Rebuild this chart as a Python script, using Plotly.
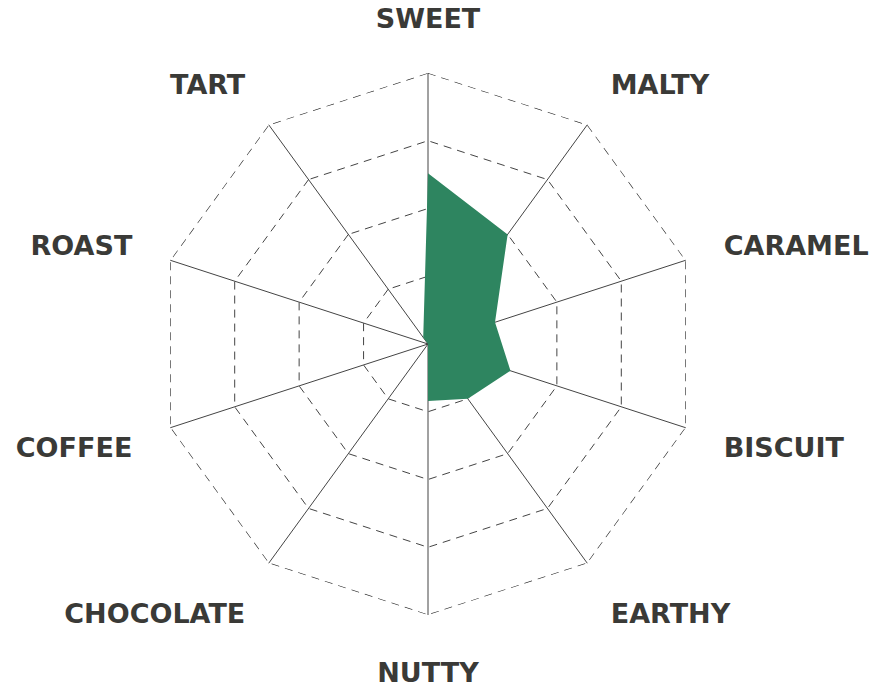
import plotly.graph_objects as go

# flavour wheel, values on a 0-100 scale
flavours = ["SWEET", "MALTY", "CARAMEL", "BISCUIT", "EARTHY",
            "NUTTY", "CHOCOLATE", "COFFEE", "ROAST", "TART"]
scores = [63, 50, 26, 32, 25, 21, 0, 0, 0, 3]
ring_levels = [25, 50, 75, 100]
outer_ring = [ring_levels[-1]] * len(flavours)

fig = go.Figure()
fig.add_trace(go.Scatterpolar(
    r=scores + scores[:1],
    theta=flavours + flavours[:1],
    mode="lines",
    fill="toself",
    fillcolor="#2e8560",
    line=dict(color="#2e8560", width=0),
    hoverinfo="skip",
    showlegend=False,
))
# outer dashed border (plotly skips the grid line at the range end)
fig.add_trace(go.Scatterpolar(
    r=outer_ring + outer_ring[:1],
    theta=flavours + flavours[:1],
    mode="lines",
    line=dict(color="#2a2a2a", width=1.2, dash="8px,6px"),
    hoverinfo="skip",
    showlegend=False,
))

fig.update_layout(
    width=888,
    height=689,
    margin=dict(l=0, r=0, t=0, b=0),
    paper_bgcolor="white",
    plot_bgcolor="white",
    font=dict(family="DejaVu Sans", color="#3a3a37"),
    polar=dict(
        domain=dict(x=[149 / 888, 691 / 888], y=[82 / 689, 624 / 689]),
        bgcolor="white",
        gridshape="linear",
        radialaxis=dict(
            range=[0, 100],
            tickvals=ring_levels,
            showticklabels=False,
            ticks="",
            showline=False,
            gridcolor="#444",
            gridwidth=1,
            griddash="8px,6px",
        ),
        angularaxis=dict(
            direction="clockwise",
            rotation=90,
            showline=False,
            gridcolor="#444",
            gridwidth=1,
            ticks="outside",
            ticklen=34,
            tickcolor="rgba(0,0,0,0)",
            tickfont=dict(size=27, family="DejaVu Sans", weight="bold", color="#3a3a37"),
        ),
    ),
)

fig.write_html("out.html")
